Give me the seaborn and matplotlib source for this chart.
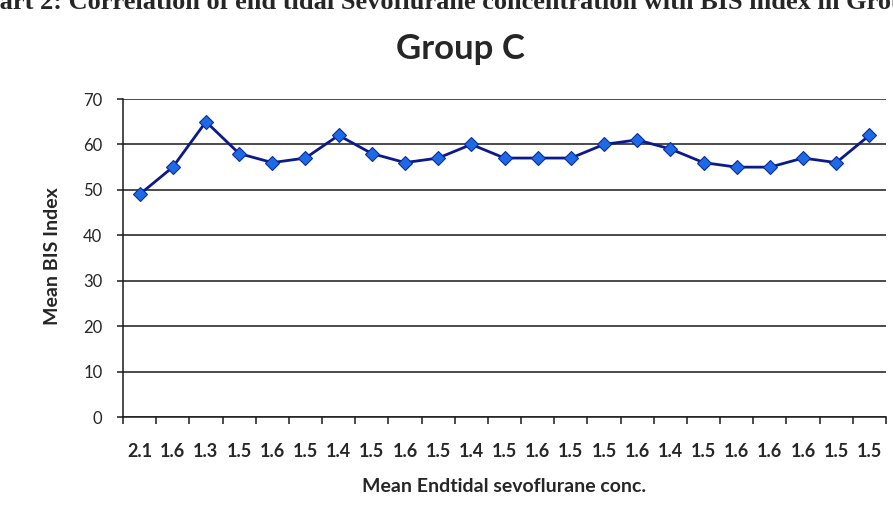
import matplotlib
matplotlib.use("Agg")
import matplotlib.pyplot as plt
import numpy as np
import pandas as pd
import seaborn as sns
from matplotlib.ticker import FixedLocator

# Mean end-tidal sevoflurane conc. (category labels) and mean BIS index
sevo_labels = ['2.1', '1.6', '1.3', '1.5', '1.6', '1.5', '1.4', '1.5', '1.6', '1.5', '1.4', '1.5',
               '1.6', '1.5', '1.5', '1.6', '1.4', '1.5', '1.6', '1.6', '1.6', '1.5', '1.5']
bis_values = [49, 55, 65, 58, 56, 57, 62, 58, 56, 57, 60, 57,
              57, 57, 60, 61, 59, 56, 55, 55, 57, 56, 62]
y_ticks = [0, 10, 20, 30, 40, 50, 60, 70]

df = pd.DataFrame({'pos': np.arange(len(bis_values)), 'BIS': bis_values})

sns.set_style('white')
plt.rcParams['font.family'] = ['Lato', 'DejaVu Sans']

W, H = 893, 527
fig = plt.figure(figsize=(W / 100, H / 100), dpi=100)
ax = fig.add_axes([123 / W, 1 - 417 / H, 763 / W, 318 / H])

sns.lineplot(data=df, x='pos', y='BIS', ax=ax, color='#0a1a8c', linewidth=2.0,
             marker='D', markersize=7.5, markerfacecolor='#1e6ae6',
             markeredgecolor='#0d2c9a', markeredgewidth=0.8, zorder=3)

ax.set_xlim(-0.5, len(bis_values) - 0.5)
ax.set_ylim(0, 70)
ax.set_yticks(y_ticks)
ax.yaxis.grid(True, color='#1a1a1a', linewidth=1.1)
ax.set_axisbelow(True)

# category labels in the middle, tick marks on the boundaries
ax.set_xticks(df['pos'])
ax.set_xticklabels(sevo_labels, fontsize=13, fontweight='bold')
ax.xaxis.set_minor_locator(FixedLocator(np.arange(len(bis_values) + 1) - 0.5))
ax.tick_params(axis='x', which='major', length=0, pad=19)
ax.tick_params(axis='x', which='minor', length=5, width=1.1, color='#1a1a1a', bottom=True)
ax.tick_params(axis='y', length=4.3, width=1.1, color='#1a1a1a', left=True, labelsize=12, pad=10.5)

for side in ['top', 'right']:
    ax.spines[side].set_visible(False)
for side in ['left', 'bottom']:
    ax.spines[side].set_color('#1a1a1a')
    ax.spines[side].set_linewidth(1.1)

ax.set_xlabel('Mean Endtidal sevoflurane conc.', fontsize=14, fontweight='bold', va='center')
ax.xaxis.set_label_coords(0.5, (417 - 487) / 318)
ax.set_ylabel('Mean BIS Index', fontsize=14, fontweight='bold', va='center')
ax.yaxis.set_label_coords((52 - 123) / 763, (417 - 256) / 318)

fig.text(460 / W, 1 - 59 / H, 'Group C', ha='center', va='baseline',
         fontsize=25, fontweight='bold')

# caption of the source document, cut off at the top-left edge
cap_size = 19
fig.canvas.draw()
renderer = fig.canvas.get_renderer()
probe = fig.text(0, 0, 'Ch', fontsize=cap_size, fontweight='bold', family='Liberation Serif')
w = probe.get_window_extent(renderer).width
probe.remove()
fig.text(-w / W, 1 - 9 / H,
         'Chart 2: Correlation of end tidal Sevoflurane concentration with BIS index in Group C',
         ha='left', va='baseline', fontsize=cap_size, fontweight='bold', family='Liberation Serif')

fig.savefig('out.png', dpi=100)
